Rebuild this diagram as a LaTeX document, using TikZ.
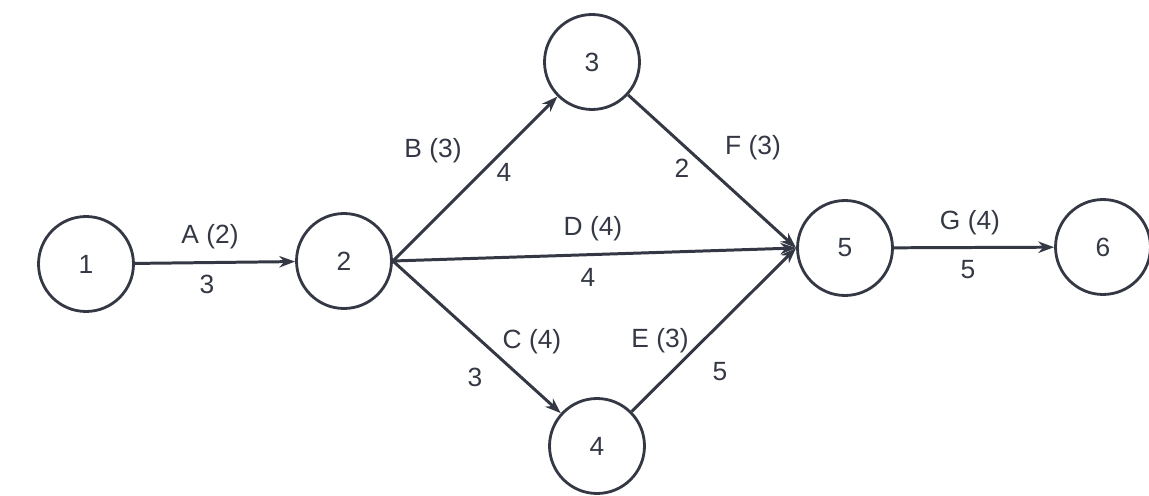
\documentclass[tikz,border=0pt]{standalone}
\usepackage{fontspec}
\setmainfont{Liberation Sans}
\usetikzlibrary{arrows.meta}
\definecolor{ink}{RGB}{52,56,68}
\begin{document}
\begin{tikzpicture}[x=0.02cm,y=-0.02cm,
  event/.style={circle,draw=ink,line width=1.6pt,minimum size=1.9cm,inner sep=0pt,text=ink,font=\fontsize{15}{18}\selectfont},
  act/.style={draw=ink,line width=1.7pt,-{Stealth[length=9pt,width=6.5pt]}},
  lab/.style={text=ink,font=\fontsize{15}{18}\selectfont,inner sep=1pt}]
\useasboundingbox (0,0) rectangle (1149,496);
\node[event] (n1) at (86,264) {1};
\node[event] (n2) at (344,261) {2};
\node[event] (n3) at (592,62) {3};
\node[event] (n4) at (597,446) {4};
\node[event] (n5) at (845,248) {5};
\node[event] (n6) at (1103,247) {6};
\coordinate (n2out) at (n2.east);
\coordinate (n5in) at (n5.west);
\draw[act] (n1) -- (n2);
\draw[act] (n2out) -- (n3);
\draw[act] (n2out) -- (n5in);
\draw[act] (n2out) -- (n4);
\draw[act] (n3) -- (n5in);
\draw[act] (n4) -- (n5in);
\draw[act] (n5) -- (n6);
\node[lab] (lA) at (210,237) {A (2)};
\node[lab] (tA) at (207,284) {3};
\node[lab] (lB) at (433,151) {B (3)};
\node[lab] (tB) at (504,172) {4};
\node[lab] (lF) at (753,148) {F (3)};
\node[lab] (tF) at (682,168) {2};
\node[lab] (lD) at (593,229) {D (4)};
\node[lab] (tD) at (588,277) {4};
\node[lab] (lC) at (532,342) {C (4)};
\node[lab] (tC) at (475,377) {3};
\node[lab] (lE) at (660,341) {E (3)};
\node[lab] (tE) at (720,372) {5};
\node[lab] (lG) at (970,223) {G (4)};
\node[lab] (tG) at (968,270) {5};
\end{tikzpicture}
\end{document}
